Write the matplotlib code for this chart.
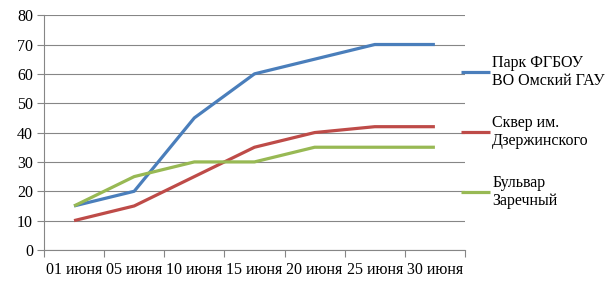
import numpy as np
import matplotlib.pyplot as plt
from matplotlib.ticker import FixedLocator

plt.rcParams['font.family'] = ['Liberation Serif', 'DejaVu Serif']

# data
dates = ['01 июня', '05 июня', '10 июня', '15 июня', '20 июня', '25 июня', '30 июня']
park = [15, 20, 45, 60, 65, 70, 70]
skver = [10, 15, 25, 35, 40, 42, 42]
bulvar = [15, 25, 30, 30, 35, 35, 35]
names = ['Парк ФГБОУ\nВО Омский ГАУ', 'Сквер им.\nДзержинского', 'Бульвар\nЗаречный']
colors = ['#4A7EBB', '#BE4B48', '#98B954']

fig = plt.figure(figsize=(6.11, 3.03), dpi=100)
ax = fig.add_axes([0.072, 0.175, 0.689, 0.775])

x = np.arange(len(dates))
for vals, name, c in zip([park, skver, bulvar], names, colors):
    ax.plot(x, vals, color=c, lw=2.3, label=name, solid_capstyle='butt')

ax.set_xlim(-0.5, len(dates) - 0.5)
ax.set_ylim(0, 80)
ax.set_yticks(np.arange(0, 81, 10))
ax.set_xticks(x)
ax.set_xticklabels(dates)
ax.xaxis.set_minor_locator(FixedLocator(np.arange(-0.5, len(dates), 1.0)))
ax.tick_params(axis='x', which='major', length=0, pad=9, labelsize=11.5)
ax.tick_params(axis='x', which='minor', length=5, color='#868686', width=0.8)
ax.tick_params(axis='y', length=5, color='#868686', width=0.8, labelsize=11.5, pad=3)
ax.grid(axis='y', color='#868686', lw=0.8)
ax.set_axisbelow(True)
for s in ['top', 'right']:
    ax.spines[s].set_visible(False)
for s in ['left', 'bottom']:
    ax.spines[s].set_color('#868686')
    ax.spines[s].set_linewidth(0.8)

ax.legend(loc='upper left', bbox_to_anchor=(0.744, 0.84), bbox_transform=fig.transFigure,
          frameon=False, fontsize=11.5, handlelength=1.8, handletextpad=0.15,
          labelspacing=1.6, borderaxespad=0)

fig.savefig('out.png', dpi=100)
